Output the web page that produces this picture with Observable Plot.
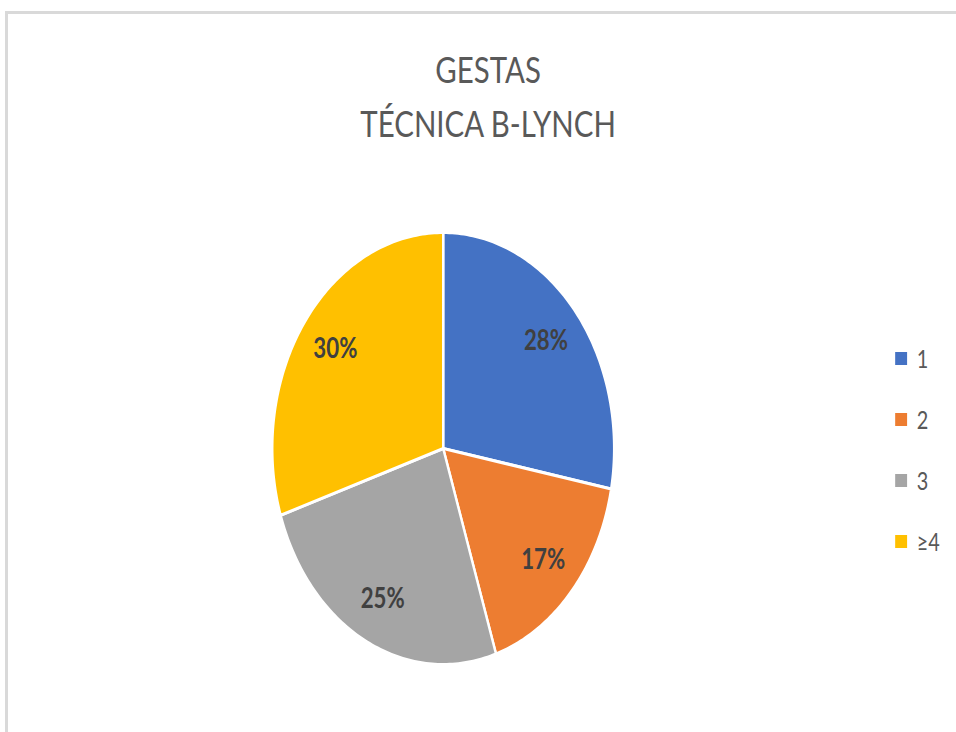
<!DOCTYPE html>
<html>
<head>
<meta charset="utf-8">
<script src="https://cdn.jsdelivr.net/npm/d3@7"></script>
<script src="https://cdn.jsdelivr.net/npm/@observablehq/plot@0.6"></script>
<style>
  html, body { margin: 0; padding: 0; background: #fff; }
  #page { position: relative; width: 956px; height: 732px; overflow: hidden; background: #fff; font-family: Lato, "Open Sans", sans-serif; }
  #frame { position: absolute; left: 5px; top: 11px; right: -10px; bottom: -10px; border-top: 3px solid #d9d9d9; border-left: 3px solid #d9d9d9; }
  #inner { position: absolute; left: 0; top: 0; width: 1202px; height: 732px; transform: scaleX(0.795); transform-origin: 0 0; }
  .title { position: absolute; left: 314px; width: 600px; text-align: center; font-size: 37px; line-height: 38px; color: #595959; white-space: nowrap; }
  #plot { position: absolute; left: 0; top: 0; }
  .leg { position: absolute; left: 1126px; height: 30px; display: flex; align-items: center; font-size: 25px; color: #595959; }
  .sw { width: 15px; height: 13px; margin-right: 12px; }
</style>
</head>
<body>
<div id="page">
  <div id="frame"></div>
  <div id="inner">
    <div class="title" style="top:50px">GESTAS</div>
    <div class="title" style="top:104px">TÉCNICA B-LYNCH</div>
    <div id="plot"></div>
    <div id="legend"></div>
  </div>
</div>
<script>
const categories = ["1", "2", "3", "≥4"];
const percents = [28, 17, 25, 30];
const colors = ["#4472C4", "#ED7D31", "#A5A5A5", "#FFC000"];
const labels = ["28%", "17%", "25%", "30%"];

const pie = d3.pie().sort(null).value(d => d.value)
  .startAngle(0).endAngle(2 * Math.PI);
const rows = categories.map((c, i) => ({key: c, value: percents[i], color: colors[i], label: labels[i]}));
const arcs = pie(rows);

// polygon outline for each slice (geometry of the arc)
function slicePath(a) {
  const pts = [{x: 0, y: 0}];
  const n = Math.max(2, Math.ceil((a.endAngle - a.startAngle) / (Math.PI / 180)));
  for (let k = 0; k <= n; k++) {
    const t = a.startAngle + (a.endAngle - a.startAngle) * k / n;
    pts.push({x: Math.sin(t), y: Math.cos(t)});
  }
  pts.push({x: 0, y: 0});
  return pts;
}

const labelPts = arcs.map(a => {
  const m = (a.startAngle + a.endAngle) / 2;
  return {x: 0.78 * Math.sin(m), y: 0.78 * Math.cos(m), text: a.data.label};
});

const marks = arcs.map(a => Plot.line(slicePath(a), {
  x: "x", y: "y", fill: a.data.color, stroke: "#ffffff", strokeWidth: 3,
  strokeLinejoin: "round", curve: "linear"
}));
marks.push(Plot.text(labelPts, {
  x: "x", y: "y", text: "text", fontSize: 28, fontWeight: "bold",
  fill: "#404040", fontFamily: "Lato, 'Open Sans', sans-serif"
}));

const chart = Plot.plot({
  width: 1202,
  height: 732,
  marginLeft: 342,
  marginRight: 430,
  marginTop: 232,
  marginBottom: 68,
  x: {domain: [-1, 1], axis: null},
  y: {domain: [-1, 1], axis: null},
  style: {background: "transparent", overflow: "visible"},
  marks
});
document.getElementById("plot").appendChild(chart);

const leg = document.getElementById("legend");
const centers = [358, 419, 480, 541];
categories.forEach((c, i) => {
  const d = document.createElement("div");
  d.className = "leg";
  d.style.top = (centers[i] - 15) + "px";
  const s = document.createElement("span");
  s.className = "sw";
  s.style.background = colors[i];
  d.appendChild(s);
  d.appendChild(document.createTextNode(c));
  leg.appendChild(d);
});
</script>
</body>
</html>
